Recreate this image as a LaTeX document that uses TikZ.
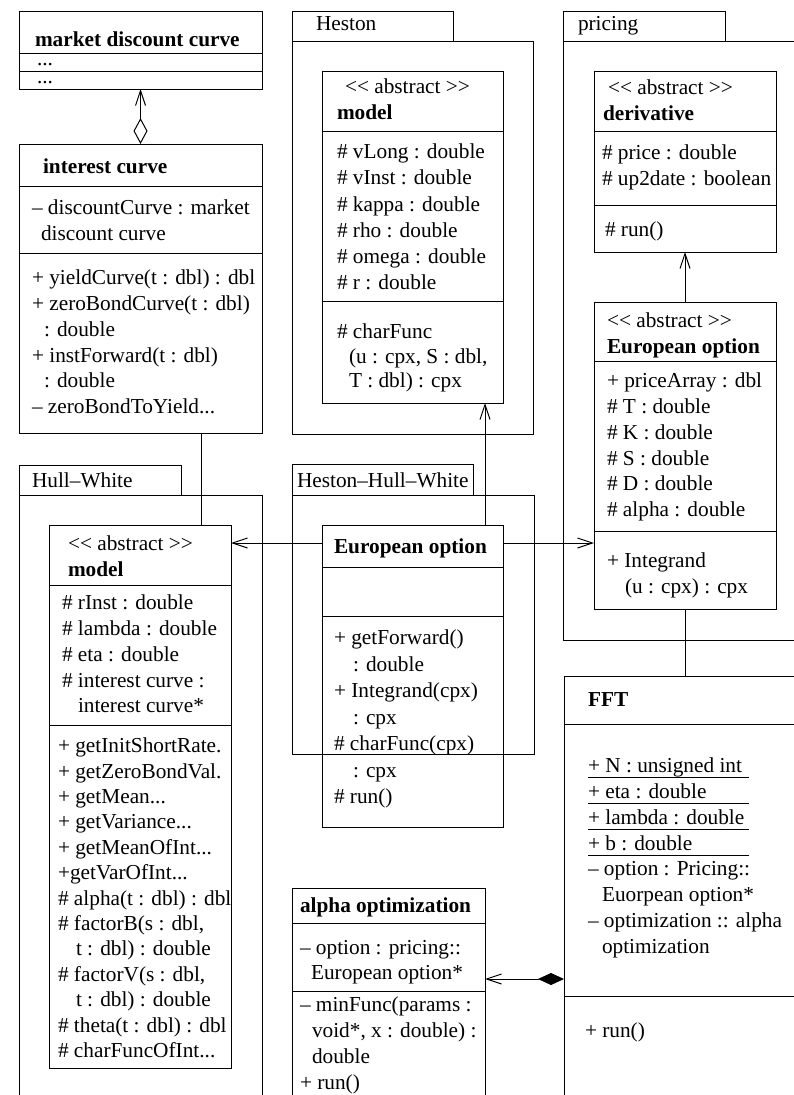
\documentclass[tikz,border=0pt]{standalone}
\usepackage{fontspec}
\usetikzlibrary{arrows.meta}
\newfontfamily\umlfont{Liberation Serif}
\newcommand\umltext{\umlfont\fontsize{21.3}{25.8}\selectfont}
% static members: fixed-length rule under the text
\newcommand\ulfix[1]{\rlap{\rule[-5.5pt]{161pt}{0.9pt}}#1}
\newcommand\ind[1]{\hspace*{#1pt}}
% a rectangle given by its top-left and bottom-right corners
\newcommand\umlframe[5]{\node[umlrect, minimum width={(#4-#2)*1pt}, minimum height={(#5-#3)*1pt}] (#1) at (#2,#3) {};}
% horizontal compartment separator inside a class box
\newcommand\umlsep[2]{\draw (#1.west |- 0,#2) -- (#1.east |- 0,#2);}
\tikzset{
  umlrect/.style={draw, line width=1pt, inner sep=0pt, outer sep=0pt, anchor=north west},
  txt/.style={anchor=north west, inner sep=0pt, outer sep=0pt, align=left, font=\umltext, execute at begin node=\strut},
  txtbase/.style={anchor=base west, inner sep=0pt, outer sep=0pt, font=\umltext},
  lead/.style={font={\umlfont\fontsize{21.3}{#1}\selectfont}},
  navarrow/.style={-{Straight Barb[length=15pt,width=10pt,line width=1pt]}},
  aggregation/.style={{Diamond[open,length=26pt,width=14pt,line width=1pt]}-{Straight Barb[length=15pt,width=10pt,line width=1pt]}},
  composition/.style={{Diamond[length=26pt,width=12pt]}-{Straight Barb[length=15pt,width=10pt,line width=1pt]}}
}
\begin{document}
\begin{tikzpicture}[x=1pt, y=-1pt, line width=1pt]
\useasboundingbox (0,0) rectangle (794,1095);
\clip (0,0) rectangle (794,1095);
\fill[white] (0,0) rectangle (794,1095);

% ---------- packages ----------
\umlframe{hestontab}{292}{11}{453}{41}
\umlframe{hestonpkg}{292}{41}{533}{434}
\node[txt] (hestonlbl) at (316,12) {Heston};

\umlframe{pricingtab}{563}{11}{725}{41}
\umlframe{pricingpkg}{563}{41}{830}{640}
\node[txt] (pricinglbl) at (578,12) {pricing};

\umlframe{hwtab}{19}{465}{181}{495}
\umlframe{hwpkg}{19}{495}{262}{1130}
\node[txt] (hwlbl) at (32,469) {Hull–White};

\umlframe{hhwtab}{292}{464}{473}{495}
\umlframe{hhwpkg}{292}{495}{534}{754}
\node[txt] (hhwlbl) at (297,469) {Heston–Hull–White};

% ---------- market discount curve ----------
\umlframe{mdc}{19}{11}{262}{89}
\umlsep{mdc}{53}
\umlsep{mdc}{71}
\node[txt] (mdctitle) at (35,28) {\textbf{market discount curve}};
\node[txtbase] (mdcattr) at (37,65) {...};
\node[txtbase] (mdcops) at (37,83) {...};

% ---------- interest curve ----------
\umlframe{ic}{19}{144}{262}{433}
\umlsep{ic}{186}
\umlsep{ic}{253}
\node[txt] (ictitle) at (43,155) {\textbf{interest curve}};
\node[txt] (icattr) at (32,200) {– discountCurve : market\\\ind{9}discount curve};
\node[txt] (icops) at (32,270) {+ yieldCurve(t : dbl) : dbl\\+ zeroBondCurve(t : dbl)\\\ind{12}: double\\+ instForward(t : dbl)\\\ind{12}: double\\– zeroBondToYield...};

% ---------- Heston model ----------
\umlframe{hm}{322}{71}{503}{403}
\umlsep{hm}{131}
\umlsep{hm}{301}
\node[txt] (hmhead) at (337,79) {\ind{8}<< abstract >>\\\textbf{model}};
\node[txt, lead=26.2] (hmattr) at (337,144) {\# vLong : double\\\# vInst : double\\\# kappa : double\\\# rho : double\\\# omega : double\\\# r : double};
\node[txt, lead=24.5] (hmops) at (337,324) {\# charFunc\\\ind{12}(u : cpx, S : dbl,\\\ind{12}T : dbl) : cpx};

% ---------- Hull-White model ----------
\umlframe{hwm}{49}{525}{231}{1068}
\umlsep{hwm}{585}
\umlsep{hwm}{725}
\node[txt] (hwmhead) at (68,536) {<< abstract >>\\\textbf{model}};
\node[txt] (hwmattr) at (62,595) {\# rInst : double\\\# lambda : double\\\# eta : double\\\# interest curve :\\\ind{16}interest curve*};
\node[txt, lead=25.4] (hwmops) at (58,738) {+ getInitShortRate.\\+ getZeroBondVal.\\+ getMean...\\+ getVariance...\\+ getMeanOfInt...\\+getVarOfInt...\\\# alpha(t : dbl) : dbl\\\# factorB(s : dbl,\\\ind{18}t : dbl) : double\\\# factorV(s : dbl,\\\ind{18}t : dbl) : double\\\# theta(t : dbl) : dbl\\\# charFuncOfInt...};

% ---------- Heston-Hull-White European option ----------
\umlframe{hhweo}{322}{525}{503}{827}
\umlsep{hhweo}{567}
\umlsep{hhweo}{616}
\node[txt] (hhweotitle) at (334,535) {\textbf{European option}};
\node[txt, lead=26.5] (hhweoops) at (334,630) {+ getForward()\\\ind{19}: double\\+ Integrand(cpx)\\\ind{19}: cpx\\\# charFunc(cpx)\\\ind{19}: cpx\\\# run()};

% ---------- derivative ----------
\umlframe{deriv}{594}{71}{776}{252}
\umlsep{deriv}{131}
\umlsep{deriv}{205}
\node[txt] (derivhead) at (603,80) {\ind{5}<< abstract >>\\\textbf{derivative}};
\node[txt] (derivattr) at (602,145) {\# price : double\\\# up2date : boolean};
\node[txt] (derivops) at (605,218) {\# run()};

% ---------- pricing European option ----------
\umlframe{peo}{594}{302}{776}{609}
\umlsep{peo}{361}
\umlsep{peo}{531}
\node[txt] (peohead) at (607,313) {<< abstract >>\\\textbf{European option}};
\node[txt] (peoattr) at (607,373) {+ priceArray : dbl\\\# T : double\\\# K : double\\\# S : double\\\# D : double\\\# alpha : double};
\node[txt] (peoops) at (607,553) {+ Integrand\\\ind{18}(u : cpx) : cpx};

% ---------- FFT ----------
\umlframe{fft}{564}{676}{830}{1130}
\umlsep{fft}{724}
\umlsep{fft}{996}
\node[txt] (ffttitle) at (588,688) {\textbf{FFT}};
\node[txt] (fftattr) at (588,758) {\ulfix{+ N : unsigned int}\\\ulfix{+ eta : double}\\\ulfix{+ lambda : double}\\\ulfix{+ b : double}\\– option : Pricing::\\\ind{14}Euorpean option*\\– optimization :: alpha\\\ind{14}optimization};
\node[txt] (fftops) at (585,1019) {+ run()};

% ---------- alpha optimization ----------
\umlframe{aopt}{292}{888}{485}{1130}
\umlsep{aopt}{923}
\umlsep{aopt}{991}
\node[txt] (aopttitle) at (300,894) {\textbf{alpha optimization}};
\node[txt] (aoptattr) at (300,940) {– option : pricing::\\\ind{11}European option*};
\node[txt] (aoptops) at (300,997) {– minFunc(params :\\\ind{12}void*, x : double) :\\\ind{12}double\\+ run()};

% ---------- connectors ----------
\coordinate (hwlink) at (201,0);
\coordinate (hestonlink) at (485,0);
\coordinate (eorow) at (0,543);
\coordinate (fftrow) at (0,979);

\draw[aggregation] (ic.north) -- (mdc.south);
\draw (ic.south -| hwlink) -- (hwm.north -| hwlink);
\draw[navarrow] (hhweo.west |- eorow) -- (hwm.east |- eorow);
\draw[navarrow] (hhweo.east |- eorow) -- (peo.west |- eorow);
\draw[navarrow] (hhweo.north -| hestonlink) -- (hm.south -| hestonlink);
\draw[navarrow] (peo.north) -- (deriv.south);
\draw (peo.south) -- (peo.south |- fft.north);
\draw[composition] (fft.west |- fftrow) -- (aopt.east |- fftrow);
\end{tikzpicture}
\end{document}
